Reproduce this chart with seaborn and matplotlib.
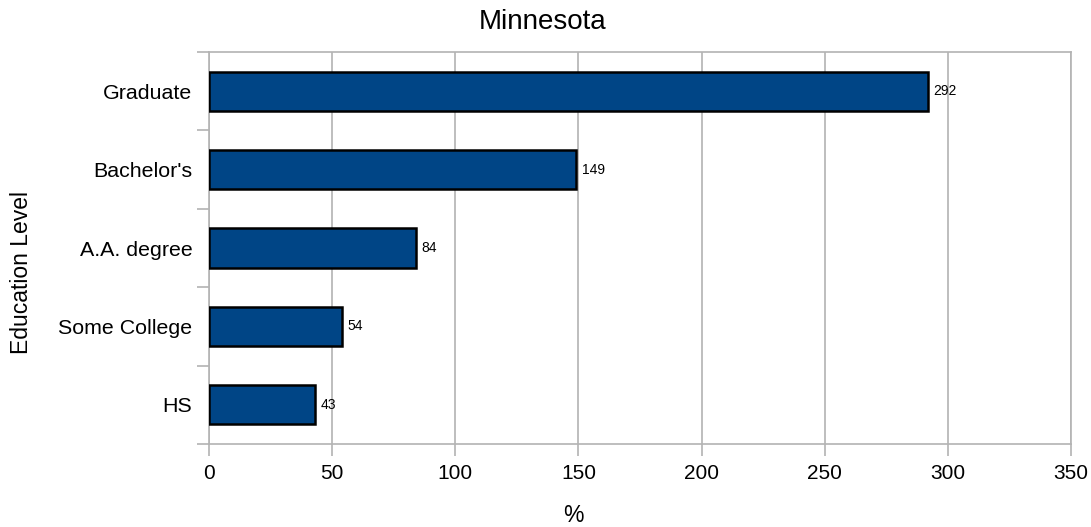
import numpy as np
import pandas as pd
import seaborn as sns
import matplotlib
matplotlib.use("Agg")
import matplotlib.pyplot as plt

levels = ["Graduate", "Bachelor's", "A.A. degree", "Some College", "HS"]
values = [292, 149, 84, 54, 43]
x_ticks = [0, 50, 100, 150, 200, 250, 300, 350]

grid_gray = "#b3b3b3"
bar_blue = "#004586"

sns.set_style("white")
plt.rcParams["font.family"] = ["Liberation Sans", "DejaVu Sans"]
plt.rcParams["text.color"] = "black"
plt.rcParams["xtick.labelcolor"] = "black"
plt.rcParams["ytick.labelcolor"] = "black"

df = pd.DataFrame({"Education Level": levels, "%": values})

fig = plt.figure(figsize=(10.91, 5.27), dpi=100)
ax = fig.add_axes([209 / 1091, 1 - 444 / 527, (1071 - 209) / 1091, (444 - 52) / 527])

sns.barplot(
    data=df,
    x="%",
    y="Education Level",
    order=levels,
    orient="h",
    color=bar_blue,
    saturation=1,
    width=0.5,
    edgecolor="black",
    linewidth=1.8,
    ax=ax,
    zorder=3,
)
for p in ax.patches:
    p.set_facecolor(bar_blue)

ax.bar_label(ax.containers[0], labels=[str(v) for v in values], padding=4, fontsize=10, zorder=4)

ax.set_xlim(0, 350)
ax.set_ylim(len(levels) - 0.5, -0.5)
ax.set_xticks(x_ticks)
ax.set_xticklabels([str(t) for t in x_ticks], fontsize=15)
ax.xaxis.grid(True, color=grid_gray, linewidth=1.2, zorder=0)
ax.tick_params(axis="x", which="major", length=8.5, width=1.2, color=grid_gray, pad=6, bottom=True)

# category labels in the middle, tick marks on the boundaries
ax.set_yticks(np.arange(len(levels)))
ax.set_yticklabels(levels, fontsize=15.4)
ax.tick_params(axis="y", which="major", length=0, pad=12)
ax.set_yticks(np.arange(len(levels) + 1) - 0.5, minor=True)
ax.tick_params(axis="y", which="minor", length=8.5, width=1.2, color=grid_gray, left=True)

for s in ax.spines.values():
    s.set_color(grid_gray)
    s.set_linewidth(1.2)
    s.set_zorder(1)

ax.set_xlabel("")
ax.set_ylabel("")
fig.text(573 / 1091, 1 - 515 / 527, "%", fontsize=16.5, ha="center", va="center")
fig.text(22 / 1091, 1 - 272 / 527, "Education Level", fontsize=16.5, rotation=90, ha="center", va="center")
fig.text(543 / 1091, 1 - 22 / 527, "Minnesota", fontsize=20, ha="center", va="center")

plt.savefig("out.png", dpi=100)
